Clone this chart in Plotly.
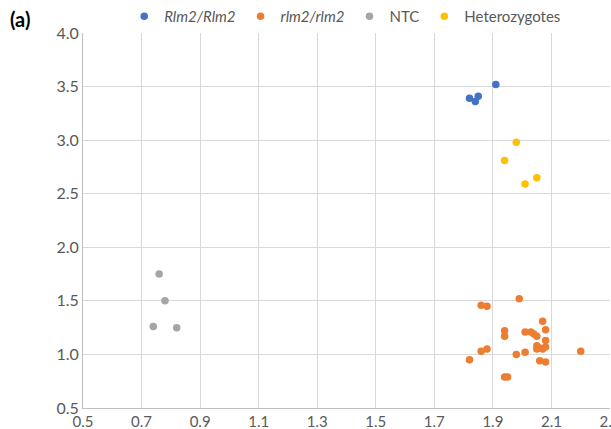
import plotly.graph_objects as go

# Data
rr_x = [1.91, 1.82, 1.84, 1.85]
rr_y = [3.52, 3.39, 3.36, 3.41]

ss_x = [1.86, 1.88, 1.99, 1.94, 1.94, 2.01, 2.03, 2.04, 2.05, 2.07, 2.08, 2.08,
        2.05, 2.06, 2.07, 2.08, 2.05, 1.98, 2.01, 1.86, 1.88, 1.82, 2.06, 2.08,
        1.94, 1.95, 2.20]
ss_y = [1.46, 1.45, 1.52, 1.22, 1.17, 1.21, 1.21, 1.19, 1.17, 1.31, 1.23, 1.13,
        1.05, 1.06, 1.05, 1.07, 1.08, 1.00, 1.02, 1.03, 1.05, 0.95, 0.94, 0.93,
        0.79, 0.79, 1.03]

ntc_x = [0.76, 0.78, 0.74, 0.82]
ntc_y = [1.75, 1.50, 1.26, 1.25]

het_x = [1.98, 1.94, 2.01, 2.05]
het_y = [2.98, 2.81, 2.59, 2.65]

x_ticks = [0.5, 0.7, 0.9, 1.1, 1.3, 1.5, 1.7, 1.9, 2.1, 2.3]
y_ticks = [0.5, 1.0, 1.5, 2.0, 2.5, 3.0, 3.5, 4.0]

series = [
    ("<i>Rlm2/Rlm2</i>", rr_x, rr_y, "#4472C4"),
    ("<i>rlm2/rlm2</i>", ss_x, ss_y, "#ED7D31"),
    ("NTC", ntc_x, ntc_y, "#A5A5A5"),
    ("Heterozygotes", het_x, het_y, "#FFC000"),
]

fig = go.Figure()
for name, xs, ys, col in series:
    fig.add_trace(go.Scatter(x=xs, y=ys, mode="markers", name=name,
                             marker=dict(color=col, size=7.5, line=dict(width=0))))

font_family = "Lato, 'Open Sans', sans-serif"
fig.update_layout(
    width=611, height=429,
    margin=dict(l=83, r=1, t=29, b=21),
    paper_bgcolor="white", plot_bgcolor="white",
    font=dict(family=font_family, size=15, color="#595959"),
    showlegend=True,
    legend=dict(orientation="h", x=0.565, xanchor="center", xref="container",
                y=1.0, yanchor="top", yref="container",
                font=dict(size=15, color="#595959"),
                itemwidth=30, tracegroupgap=0, bgcolor="rgba(0,0,0,0)"),
    xaxis=dict(range=[0.5, 2.3], tickvals=x_ticks, ticktext=[f"{v:.1f}" for v in x_ticks],
               showgrid=True, gridcolor="#D9D9D9", gridwidth=1,
               showline=True, linecolor="#BFBFBF", linewidth=1,
               zeroline=False, ticks="", automargin=False,
               ticklabeloverflow="allow", ticklabelstandoff=0,
               tickfont=dict(size=15, color="#595959")),
    yaxis=dict(range=[0.5, 4.0], tickvals=y_ticks, ticktext=[f"{v:.1f}" for v in y_ticks],
               showgrid=True, gridcolor="#D9D9D9", gridwidth=1,
               showline=True, linecolor="#BFBFBF", linewidth=1,
               zeroline=False, ticks="", automargin=False,
               tickfont=dict(size=16, color="#595959")),
    annotations=[dict(text="<b>(a)</b>", xref="paper", yref="paper",
                      x=-0.12, y=1.0, xanchor="center", yanchor="bottom",
                      showarrow=False, font=dict(size=20, color="#000000", family=font_family))],
)

fig.write_html("out.html")
